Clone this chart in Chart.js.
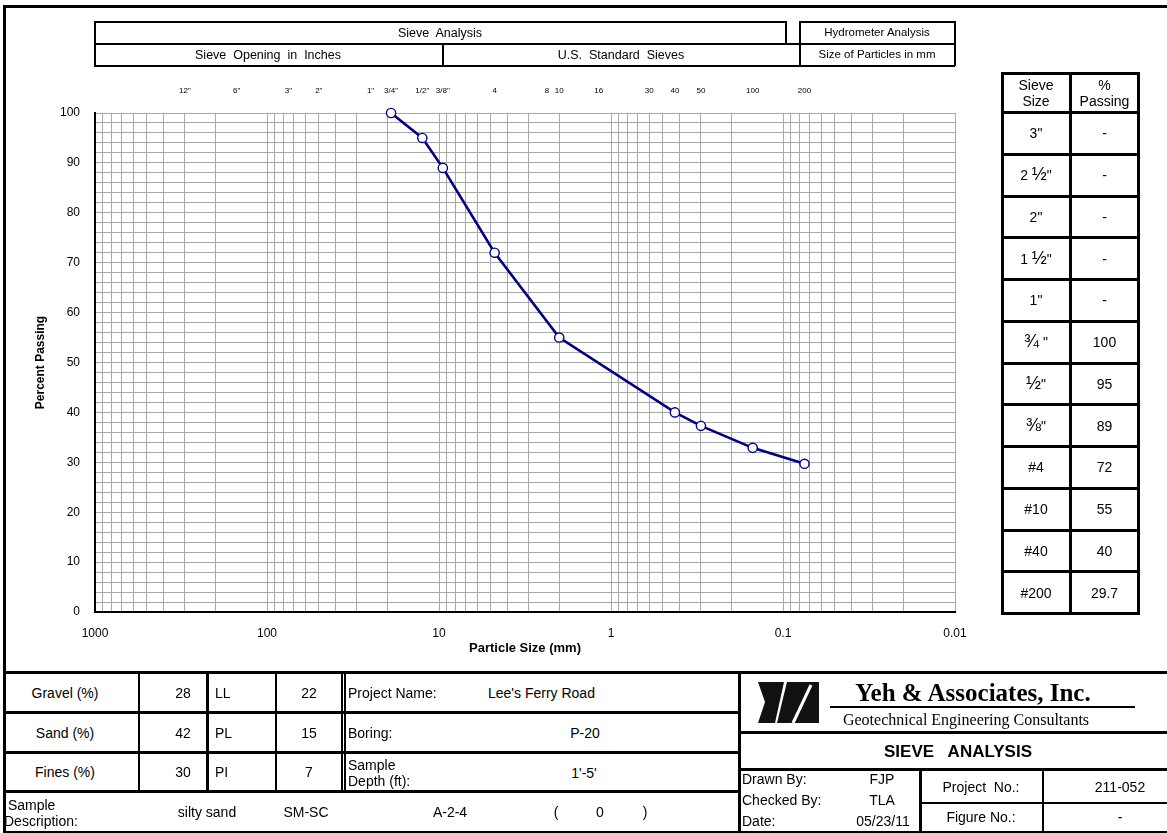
<!DOCTYPE html>
<html>
<head>
<meta charset="utf-8">
<title>Sieve Analysis</title>
<script src="https://cdn.jsdelivr.net/npm/chart.js@4.4.1/dist/chart.umd.min.js"></script>
<style>
  html, body { margin: 0; padding: 0; background: #fff; }
  #sheet { position: relative; width: 1167px; height: 833px; overflow: hidden;
           font-family: "Liberation Sans", Arial, sans-serif; color: #000; }
  #plotWrap { position: absolute; left: 0; top: 0; width: 1167px; height: 670px; }
  .ln { position: absolute; background: #000; }
  .txt { position: absolute; white-space: pre; line-height: 1.15; transform: translate(-50%, -50%); text-align: center; }
  .txt.left { transform: translate(0, -50%); text-align: left; }
  .serif { font-family: "Liberation Serif", "Times New Roman", serif; }
  .frac { font-size: 18px; line-height: 14px; }
  #logo { position: absolute; left: 758px; top: 682px; }
</style>
</head>
<body>
<div id="sheet">
  <div id="plotWrap"><canvas id="gradation"></canvas></div>
  <svg id="logo" width="62" height="42" viewBox="0 0 62 42">
    <polygon points="0,0 26,0 17,41 0,41 7,20" fill="#111"/>
    <polygon points="29,0 61,0 61,41 19,41" fill="#111"/>
    <line x1="53" y1="3" x2="35" y2="41" stroke="#fff" stroke-width="3"/>
  </svg>
</div>

<script>
// sieve results (particle size in mm, percent passing)
const sieveSizesMm = [19.0, 12.5, 9.5, 4.75, 2.0, 0.425, 0.3, 0.15, 0.075];
const percentPassing = [100, 95, 89, 72, 55, 40, 37.3, 32.9, 29.7];

// sieve designations along the top of the plot
const topSieveMm = [300, 150, 75, 50, 25, 19, 12.5, 9.5, 4.75, 2.36, 2.0, 1.18, 0.6, 0.425, 0.3, 0.15, 0.075];
const topSieveLabels = ['12"', '6"', '3"', '2"', '1"', '3/4"', '1/2"', '3/8"', '4', '8', '10', '16', '30', '40', '50', '100', '200'];

// labelled decades on the particle size axis
const sizeMajorTicks = [1000, 100, 10, 1, 0.1, 0.01];
const sizeTickLabels = ['1000', '100', '10', '1', '0.1', '0.01'];

// summary table on the right (fractions wrapped for a larger glyph)
const tableSieves = ['3"', '2 <span class="frac">½</span>"', '2"', '1 <span class="frac">½</span>"', '1"',
  '<span class="frac">¾</span> "', '<span class="frac">½</span>"', '<span class="frac">⅜</span>"',
  '#4', '#10', '#40', '#200'];
const tablePassing = ['-', '-', '-', '-', '-', '100', '95', '89', '72', '55', '40', '29.7'];

// soil summary
const fractionNames = ['Gravel (%)', 'Sand (%)', 'Fines (%)'];
const fractionValues = ['28', '42', '30'];
const limitNames = ['LL', 'PL', 'PI'];
const limitValues = ['22', '15', '7'];

Chart.defaults.font.family = '"Liberation Sans", Arial, sans-serif';
Chart.defaults.color = '#000';

const GRID = '#a8a8a8';

// minor log grid: 1..9 in every decade
function logGridValues() {
  const vals = [];
  for (let e = -2; e < 3; e++) {
    for (let m = 1; m < 10; m++) vals.push(m * Math.pow(10, e));
  }
  vals.push(1000);
  return vals;
}

new Chart(document.getElementById('gradation'), {
  type: 'line',
  data: {
    datasets: [{
      data: sieveSizesMm.map((x, i) => ({ x, y: percentPassing[i] })),
      borderColor: '#000080',
      borderWidth: 2.6,
      pointRadius: 4.6,
      pointBackgroundColor: '#fff',
      pointBorderColor: '#000080',
      pointBorderWidth: 1.4,
      tension: 0,
      clip: false
    }]
  },
  options: {
    responsive: true,
    maintainAspectRatio: false,
    animation: false,
    layout: { padding: { left: 0, right: 212, top: 0, bottom: 0 } },
    plugins: { legend: { display: false }, tooltip: { enabled: false } },
    scales: {
      x: {
        type: 'logarithmic',
        position: 'bottom',
        min: 0.01,
        max: 1000,
        reverse: true,
        afterBuildTicks: s => { s.ticks = logGridValues().map(value => ({ value })); },
        afterFit: s => { s.height = 58; },
        grid: { color: GRID, lineWidth: 1, drawTicks: false },
        border: { display: true, color: '#000', width: 2 },
        ticks: {
          autoSkip: false, maxRotation: 0, padding: 14, font: { size: 12 },
          callback: v => {
            const i = sizeMajorTicks.findIndex(t => Math.abs(t - v) / t < 1e-9);
            return i >= 0 ? sizeTickLabels[i] : '';
          }
        },
        title: {
          display: true, text: 'Particle Size (mm)',
          font: { size: 13, weight: 'bold' },
          padding: { top: 0, bottom: 14 }
        }
      },
      x2: {
        type: 'logarithmic',
        position: 'top',
        min: 0.01,
        max: 1000,
        reverse: true,
        afterBuildTicks: s => { s.ticks = topSieveMm.map(value => ({ value })); },
        afterFit: s => { s.height = 113; },
        grid: { display: false, drawTicks: false },
        border: { display: false },
        ticks: {
          autoSkip: false, maxRotation: 0, padding: 17, font: { size: 8 },
          callback: (v, i) => topSieveLabels[i]
        }
      },
      y: {
        min: 0,
        max: 100,
        afterBuildTicks: s => {
          const t = [];
          for (let v = 0; v <= 100; v += 2) t.push({ value: v });
          s.ticks = t;
        },
        afterFit: s => { s.width = 95; },
        grid: { color: GRID, lineWidth: 1, drawTicks: false },
        border: { display: true, color: '#000', width: 2 },
        ticks: {
          autoSkip: false, padding: 15, font: { size: 12 },
          callback: v => (v % 10 === 0 ? String(v) : '')
        },
        title: {
          display: true, text: 'Percent Passing',
          font: { size: 12, weight: 'bold' },
          padding: { top: 33, bottom: 0 },
          align: 'center'
        }
      }
    }
  }
});

// ---- sheet frame, header, tables ----
const sheet = document.getElementById('sheet');

function hline(x1, x2, y, w) {
  const d = document.createElement('div');
  d.className = 'ln';
  d.style.cssText = `left:${x1}px;top:${y}px;width:${x2 - x1}px;height:${w}px;`;
  sheet.appendChild(d);
}
function vline(x, y1, y2, w) {
  const d = document.createElement('div');
  d.className = 'ln';
  d.style.cssText = `left:${x}px;top:${y1}px;width:${w}px;height:${y2 - y1}px;`;
  sheet.appendChild(d);
}
function text(str, x, y, size, opt = {}) {
  const d = document.createElement('div');
  d.className = 'txt' + (opt.left ? ' left' : '') + (opt.serif ? ' serif' : '');
  d.style.cssText = `left:${x}px;top:${y}px;font-size:${size}px;` +
    (opt.bold ? 'font-weight:bold;' : '') + (opt.css || '');
  if (opt.html) d.innerHTML = str; else d.textContent = str;
  sheet.appendChild(d);
}

// outer frame
hline(3, 1167, 5, 3);
vline(3, 5, 833, 3);
hline(3, 1167, 831, 2);

// header above the plot
hline(94, 786, 21, 1.5);
hline(800, 955, 21, 1.5);
hline(94, 955, 43, 1.5);
hline(94, 955, 65, 1.5);
vline(94, 21, 66, 1.5);
vline(785, 21, 44, 1.5);
vline(799, 21, 66, 1.5);
vline(954, 21, 66, 1.5);
vline(442, 43, 66, 1.5);
text('Sieve  Analysis', 440, 32.5, 12.5);
text('Hydrometer Analysis', 877, 32.5, 11.5);
text('Sieve  Opening  in  Inches', 268, 54.5, 12.5);
text('U.S.  Standard  Sieves', 621, 54.5, 12.5);
text('Size of Particles in mm', 877, 54.5, 11.5);

// sieve size / % passing table
const rowTop = 111, rowH = 41.75;
vline(1001, 72, 615, 3);
vline(1069, 72, 615, 3);
vline(1137, 72, 615, 3);
hline(1001, 1140, 72, 3);
for (let k = 0; k <= tableSieves.length; k++) {
  hline(1001, 1140, Math.round(rowTop + k * rowH), 3);
}
text('Sieve\nSize', 1036, 92.5, 14);
text('%\nPassing', 1104.5, 92.5, 14);
tableSieves.forEach((s, k) => {
  const cy = rowTop + (k + 0.5) * rowH + 1.5;
  text(s, 1036, cy, 14, { html: true });
  text(tablePassing[k], 1104.5, cy, 14);
});

// bottom block
hline(3, 1167, 671, 3);
hline(3, 739, 711, 3);
hline(3, 739, 751, 3);
hline(3, 739, 790, 3);
vline(138, 672, 792, 1.5);
vline(206, 672, 792, 3);
vline(275, 672, 792, 1.5);
vline(341, 672, 792, 1.5);
vline(344, 672, 792, 1.5);
vline(738, 672, 833, 3);

const rowMid = [692.5, 732.5, 772];
fractionNames.forEach((n, i) => {
  text(n, 65, rowMid[i], 14);
  text(fractionValues[i], 183, rowMid[i], 14);
  text(limitNames[i], 215, rowMid[i], 14, { left: true });
  text(limitValues[i], 309, rowMid[i], 14);
});

text('Project Name:', 348, 692.5, 14, { left: true });
text("Lee's Ferry Road", 488, 692.5, 14, { left: true });
text('Boring:', 348, 732.5, 14, { left: true });
text('P-20', 585, 732.5, 14);
text('Sample\nDepth (ft):', 348, 773, 14, { left: true });
text("1'-5'", 584, 772.5, 14);

text(' Sample\nDescription:', 4, 813, 14, { left: true });
text('silty sand', 207, 811.5, 14);
text('SM-SC', 306, 811.5, 14);
text('A-2-4', 450, 811.5, 14);
text('(', 556, 811.5, 14);
text('0', 600, 811.5, 14);
text(')', 645, 811.5, 14);

// title block
hline(739, 1167, 731, 3);
hline(739, 1167, 768, 3);
vline(919, 769, 833, 2.5);
vline(1042, 769, 833, 1.5);
hline(920, 1167, 802, 2);
hline(830, 1135, 706, 2);

text('Yeh & Associates, Inc.', 973, 693, 25, { bold: true, serif: true });
text('Geotechnical Engineering Consultants', 966, 720, 16, { serif: true });
text('SIEVE   ANALYSIS', 958, 751.5, 17, { bold: true });

text('Drawn By:', 742, 779, 14, { left: true });
text('Checked By:', 742, 800, 14, { left: true });
text('Date:', 742, 821, 14, { left: true });
text('FJP', 882, 779, 14);
text('TLA', 882, 800, 14);
text('05/23/11', 883, 821, 14);
text('Project  No.:', 981, 787, 14);
text('211-052', 1120, 787, 14);
text('Figure No.:', 981, 817, 14);
text('-', 1120, 817, 14);
</script>
</body>
</html>
